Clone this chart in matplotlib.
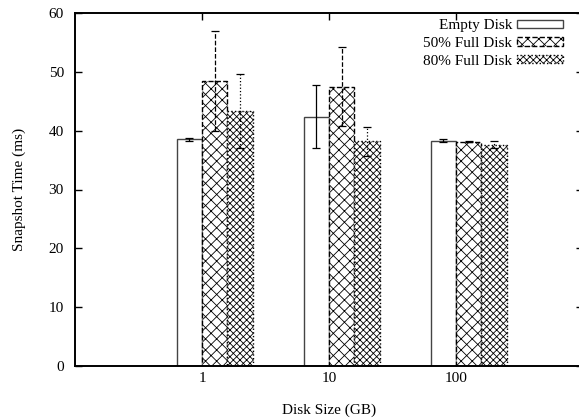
import numpy as np
import matplotlib
matplotlib.use("Agg")
import matplotlib.pyplot as plt

plt.rcParams['font.family'] = ['Liberation Serif', 'DejaVu Serif']
plt.rcParams['hatch.linewidth'] = 0.6

# disk sizes (GB) and snapshot times (ms)
sizes = ["1", "10", "100"]
series = ["Empty Disk", "50% Full Disk", "80% Full Disk"]
empty = [38.5, 42.4, 38.3]
empty_err = [0.3, 5.4, 0.3]
half = [48.5, 47.5, 38.1]
half_err = [8.5, 6.7, 0.1]
eighty = [43.3, 38.2, 37.6]
eighty_err = [6.3, 2.5, 0.6]

values = [empty, half, eighty]
errors = [empty_err, half_err, eighty_err]
hatches = ["", "xxx", "xxxxx"]
edge_styles = ["-", "--", ":"]
edge_colors = ["#444444", "black", "black"]

fig = plt.figure(figsize=(5.79, 4.2), dpi=100)
# right border of the original sits just past the image edge
ax = fig.add_axes([75 / 579, 54 / 420, 508 / 579, 353 / 420])

x = np.arange(len(sizes))
width = 0.2
offsets = [-0.1, 0.1, 0.3]

for i in range(3):
    ax.bar(x + offsets[i], values[i], width, color="white",
           edgecolor=edge_colors[i], linewidth=1.0, linestyle=edge_styles[i],
           hatch=hatches[i], label=series[i], zorder=2)
    eb = ax.errorbar(x + offsets[i], values[i], yerr=errors[i], fmt="none",
                     ecolor="black", elinewidth=0.9, capsize=3, capthick=0.9, zorder=3)
    for line in eb[2]:
        line.set_linestyle(edge_styles[i])

ax.set_xlim(-1, 3)
ax.set_ylim(0, 60)
ax.set_xticks(x)
ax.set_xticklabels(sizes)
ax.set_yticks(np.arange(0, 61, 10))
ax.tick_params(direction="in", length=5, width=1, top=True, right=True, labelsize=11)
ax.tick_params(axis="x", pad=4)
ax.tick_params(axis="y", pad=8)

for s in ax.spines.values():
    s.set_linewidth(1.4)

ax.set_xlabel("Disk Size (GB)", fontsize=11, labelpad=14)
ax.set_ylabel("Snapshot Time (ms)", fontsize=11, labelpad=16)

leg = ax.legend(loc="upper right", bbox_to_anchor=(0.987, 1.021), frameon=False,
                markerfirst=False, fontsize=11, handlelength=3.0, handleheight=0.5,
                labelspacing=0.3, handletextpad=0.3)
for t in leg.get_texts():
    t.set_ha("right")

fig.savefig("out.png", dpi=100)
